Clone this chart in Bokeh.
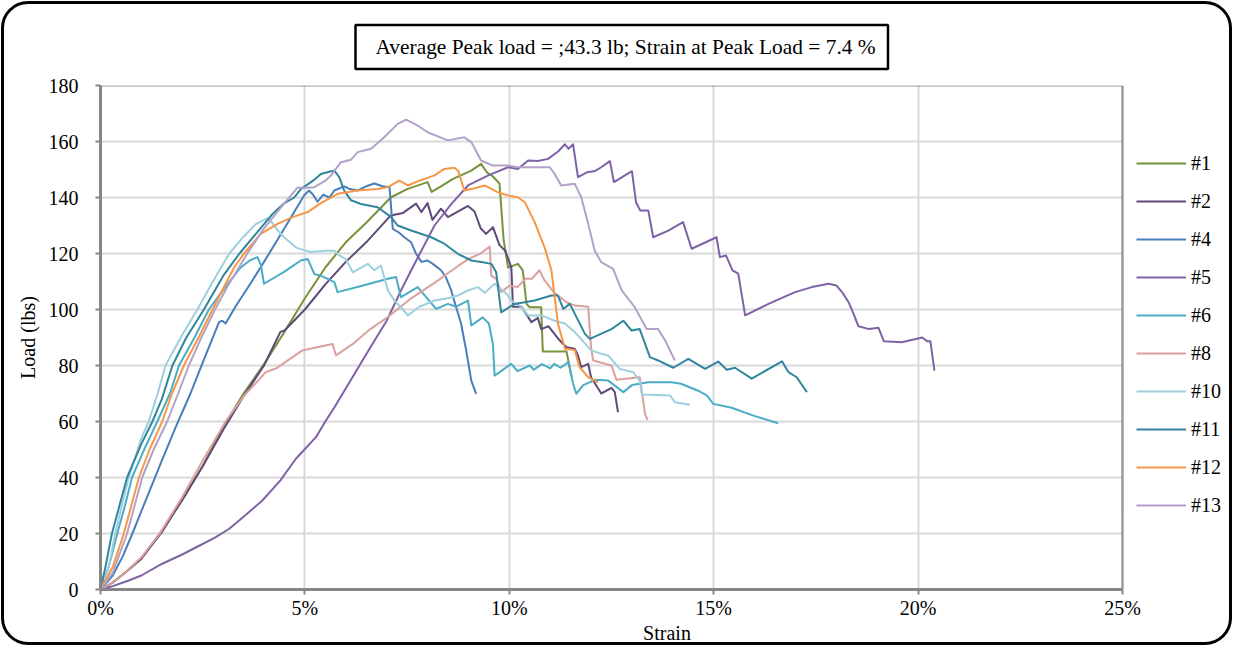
from bokeh.plotting import figure
from bokeh.models import Range1d, FixedTicker, Legend, LegendItem, BoxAnnotation
from bokeh.embed import file_html
from bokeh.resources import INLINE

# ---------------- data (strain in %, load in lbs) ----------------
names = ["#1", "#2", "#4", "#5", "#6", "#8", "#10", "#11", "#12", "#13"]
colors = ["#77933C", "#5F497A", "#4A7EBB", "#7F62A6", "#4BACC6",
          "#DAA19E", "#9DCFDD", "#31859C", "#F79646", "#B3A2C7"]

strain_1 = [0, 0.3, 0.6, 1.0, 1.5, 2.0, 2.5, 3.0, 3.5, 4.0, 4.5, 5.0, 5.5, 6.0, 6.5, 7.1, 7.5, 8.0, 8.1, 8.33,
            8.6, 9.07, 9.31, 9.45, 9.6, 9.76, 9.86, 9.97, 10.21, 10.33, 10.42, 10.5, 10.78, 10.82, 11.4, 11.52]
load_1 = [0, 2.5, 6, 11, 21, 32, 44, 58, 70, 80.5, 92, 104, 115, 124, 131, 140, 143, 145.5, 142, 144,
          146.5, 149.6, 152, 149, 147.5, 145, 125, 115, 116.3, 114, 102, 100.8, 100.8, 85, 85, 76]

strain_2 = [0, 0.3, 0.6, 1.0, 1.5, 2.0, 2.5, 3.0, 3.5, 4.0, 4.4, 4.5, 5.0, 5.5, 6.0, 6.5, 7.1, 7.4, 7.72, 7.85,
            8.0, 8.12, 8.33, 8.5, 8.99, 9.15, 9.3, 9.43, 9.6, 9.76, 9.9, 10.05, 10.09, 10.3, 10.54, 10.7, 10.78,
            10.96, 11.23, 11.4, 11.6, 11.68, 11.76, 11.93, 12.0, 12.25, 12.5, 12.58, 12.66]
load_2 = [0, 2.5, 6, 11, 20.5, 32, 44, 57, 69, 80, 92, 92.5, 100, 109, 117, 124, 133.6, 134.5, 137.8, 134.8,
          138, 132, 136, 133, 137, 135, 129, 127, 129.4, 123, 121, 115, 101, 101, 95.5, 97, 93,
          94, 89, 86.5, 86, 83.6, 79.4, 80.6, 75.8, 70, 72, 70.5, 63.3]

strain_4 = [0, 0.3, 0.55, 0.78, 1.0, 1.25, 1.5, 1.84, 2.2, 2.5, 2.9, 2.98, 3.06, 3.3, 3.7, 4.0, 4.5, 4.98, 5.1,
            5.2, 5.31, 5.45, 5.6, 5.72, 5.96, 6.1, 6.29, 6.5, 6.7, 6.9, 7.07, 7.15, 7.3, 7.43, 7.6, 7.72, 7.85,
            8.0, 8.13, 8.33, 8.45, 8.58, 8.7, 8.82, 8.95, 9.07, 9.19]
load_4 = [0, 5, 12, 20, 28, 37, 46, 58, 70, 81, 95.5, 96, 95, 101, 110, 117, 129, 140.7, 142.5,
          141, 138.5, 141, 140, 142.5, 144, 143, 142.5, 144, 145, 144, 143.7, 128.8, 127.5, 125.8, 124, 119.9, 117,
          117.5, 116.3, 114, 111.5, 106.8, 100.8, 95, 85, 74.6, 69.9]

strain_5 = [0, 0.3, 0.69, 1.0, 1.51, 2.0, 2.33, 2.8, 3.15, 3.5, 3.96, 4.4, 4.78, 5.27, 5.5, 5.72, 6.13, 6.5, 7.0,
            7.35, 7.6, 8.17, 8.6, 8.99, 9.5, 9.97, 10.21, 10.46, 10.7, 10.95, 11.2, 11.36, 11.45, 11.56, 11.68,
            11.9, 12.1, 12.25, 12.46, 12.56, 13.0, 13.1, 13.2, 13.4, 13.52, 13.89, 14.25, 14.46, 15.07, 15.15,
            15.3, 15.46, 15.6, 15.77, 16.34, 16.99, 17.4, 17.81, 18.0, 18.15, 18.3, 18.42, 18.54, 18.8, 19.03,
            19.16, 19.6, 20.1, 20.22, 20.3, 20.4]
load_5 = [0, 1.2, 3.2, 5, 9.2, 12.5, 15, 18.5, 21.7, 26, 31.8, 39, 46.7, 54.4, 60, 65, 75, 84, 96,
          106.8, 114, 130, 138, 144.3, 148, 150.8, 150.2, 153.2, 153, 153.8, 156.5, 159, 157.4, 159, 147.3,
          149, 149.5, 150.8, 153, 145.5, 149.4, 138.3, 135.4, 135.4, 125.8, 128.2, 131.2, 121.7, 125.8, 118.7,
          119.3, 114, 112.8, 97.9, 102, 106.2, 108, 109.2, 108.6, 106, 102.6, 98.5, 94, 93, 93.5,
          88.7, 88.3, 90, 88.7, 88.7, 78.2]

strain_6 = [0, 0.2, 0.41, 0.6, 0.77, 1.1, 1.39, 1.7, 1.92, 2.3, 2.65, 3.05, 3.43, 3.65, 3.84, 3.92, 4.0, 4.5,
            4.9, 5.07, 5.23, 5.4, 5.72, 5.8, 6.4, 7.03, 7.23, 7.35, 7.76, 8.21, 8.5, 8.7, 8.99, 9.07, 9.35, 9.5,
            9.6, 9.64, 10.05, 10.2, 10.5, 10.6, 10.8, 11.0, 11.1, 11.25, 11.45, 11.56, 11.64, 11.8, 12.09, 12.42,
            12.79, 13.0, 13.4, 13.97, 14.2, 14.62, 14.83, 14.99, 15.44, 15.97, 16.58]
load_6 = [0, 8, 20, 30, 40, 51, 60, 70, 80, 90, 100, 108, 115, 117.5, 118.7, 116, 109.2, 113.5,
          117.5, 118, 112.7, 112, 109.8, 106.2, 108.5, 111, 111.6, 104.4, 108, 100.2, 102, 101, 103.2, 94.3, 97.2, 95,
          87.7, 76.4, 80.6, 78, 80, 78.5, 80.5, 79, 80.6, 79.2, 81.2, 73.5, 69.9, 72.9, 74.9, 74.6,
          70.5, 73, 74, 74, 73.5, 71, 69.3, 66.3, 64.9, 62.1, 59.4]

strain_8 = [0, 0.3, 0.6, 1.0, 1.45, 2.0, 2.5, 3.06, 3.5, 4.04, 4.3, 4.6, 4.94, 5.3, 5.68, 5.76, 6.2, 6.6, 7.03,
            7.6, 8.17, 8.6, 8.99, 9.3, 9.52, 9.56, 9.68, 9.8, 10.0, 10.2, 10.4, 10.55, 10.74, 10.86, 11.1, 11.4,
            11.6, 11.93, 12.0, 12.05, 12.5, 12.62, 13.19, 13.24, 13.32, 13.38]
load_8 = [0, 2.5, 6, 11.5, 20, 33, 46, 60, 69, 77.6, 79, 82, 85.4, 86.5, 87.7, 83.6, 88, 93, 97.3,
          104, 109.5, 114, 118, 120, 122.5, 112, 111, 106.2, 108.5, 108, 111, 111, 114, 110.4, 106, 102.6,
          101.4, 101, 86.5, 81.8, 80, 74.9, 75.8, 71, 62.7, 60.6]

strain_10 = [0, 0.2, 0.36, 0.69, 1.0, 1.18, 1.4, 1.59, 2.0, 2.37, 2.75, 3.15, 3.5, 3.8, 4.0, 4.08, 4.2, 4.35, 4.49,
             4.8, 5.15, 5.5, 5.72, 5.84, 6.0, 6.17, 6.54, 6.7, 6.86, 7.03, 7.2, 7.35, 7.52, 7.8, 8.17, 8.5, 8.74,
             8.99, 9.23, 9.4, 9.64, 9.93, 10.09, 10.29, 10.46, 10.78, 11.11, 11.36, 11.6, 12.0, 12.25, 12.42,
             12.7, 13.03, 13.19, 13.24, 13.93, 14.05, 14.42]
load_10 = [0, 8, 20, 40, 54, 60, 70, 80, 91, 100, 110, 120, 126, 130.5, 132, 132.5, 131, 128, 125.8,
           122, 120.5, 121, 121, 119.3, 118, 113.3, 116.3, 114, 115.7, 106.8, 103, 100.8, 97.9, 101, 103.2, 104, 105,
           106.8, 108, 106, 109.2, 105.6, 102.6, 101, 97.9, 97.9, 96, 95, 92, 85.4, 84.2, 83.6,
           78.8, 77.6, 74.6, 69.6, 69.3, 66.9, 66]

strain_11 = [0, 0.12, 0.28, 0.65, 1.0, 1.27, 1.5, 1.76, 2.1, 2.53, 3.0, 3.4, 3.8, 4.2, 4.5, 4.74, 4.9, 5.2, 5.39,
             5.64, 5.72, 5.84, 5.96, 6.13, 6.37, 6.78, 7.11, 7.27, 7.6, 8.09, 8.41, 8.74, 9.07, 9.35, 9.56, 9.68,
             9.8, 10.13, 10.62, 11.03, 11.19, 11.32, 11.48, 11.85, 11.97, 12.5, 12.79, 12.99, 13.19, 13.44, 13.64,
             14.01, 14.38, 14.79, 15.11, 15.32, 15.52, 15.93, 16.67, 16.83, 17.03, 17.28]
load_11 = [0, 8, 20, 40, 52, 60, 68, 80, 90, 100, 112, 120, 127, 134, 138, 140, 143, 146, 148.4,
           149.4, 149.6, 147.3, 142.5, 139, 137.7, 136.5, 133, 130, 128.2, 125.8, 123.5, 119.9, 117.5, 116.9, 116.3,
           113.3, 99, 102, 103.2, 105, 105, 100.2, 102, 91.3, 89.5, 93, 96, 92.5, 93, 83, 81.8,
           79.2, 82.4, 78.8, 81.4, 78.5, 79.2, 75.3, 81.5, 77.6, 75.8, 70.5]

strain_12 = [0, 0.3, 0.57, 0.94, 1.2, 1.51, 1.75, 2.04, 2.4, 2.74, 3.0, 3.27, 3.51, 3.92, 4.33, 4.7, 5.07, 5.39,
             5.8, 6.29, 6.78, 7.03, 7.31, 7.52, 7.8, 8.17, 8.41, 8.66, 8.75, 8.9, 9.07, 9.4, 9.7, 9.97, 10.21,
             10.38, 10.62, 10.86, 11.03, 11.11, 11.19, 11.36, 11.6, 11.72, 11.93, 12.17]
load_12 = [0, 8, 20, 40, 50, 60, 70, 80, 90, 100, 107.5, 115, 120, 127, 130.6, 133, 134.8, 138,
           141.3, 142.5, 143, 143.7, 146, 144.3, 146, 147.9, 150.2, 150.6, 149.5, 142.5, 143, 144.3, 142, 140.7, 140.1,
           138.3, 131.2, 122.3, 114, 104.4, 95, 86, 85.5, 79.4, 75.8, 74]

strain_13 = [0, 0.3, 0.65, 1.02, 1.3, 1.63, 1.9, 2.16, 2.5, 2.8, 3.1, 3.59, 4.0, 4.5, 4.82, 5.07, 5.23, 5.5, 5.64,
             5.88, 6.13, 6.29, 6.62, 6.94, 7.27, 7.48, 7.76, 8.0, 8.5, 8.9, 9.07, 9.31, 9.6, 9.97, 10.21, 10.62,
             10.99, 11.11, 11.27, 11.6, 11.76, 11.93, 12.09, 12.25, 12.54, 12.75, 13.07, 13.36, 13.64, 13.81, 14.05]
load_13 = [0, 6, 20, 40, 50, 60, 70, 80, 91, 100, 108, 120, 129, 138, 143.5, 143.5, 143.7, 146, 147.9,
           152.6, 153.5, 156.2, 157.4, 161.5, 166.3, 167.8, 165.7, 163.3, 160.4, 161.5, 159.8, 153.2, 151.4, 151.4,
           150.8, 150.8, 150.8, 148.4, 144.3, 144.9, 140.1, 130.6, 121, 116.9, 114.5, 106.8, 100.8, 93, 93, 89, 81.8]

x_ticks = [0, 5, 10, 15, 20, 25]
x_tick_labels = ["0%", "5%", "10%", "15%", "20%", "25%"]
y_ticks = [0, 20, 40, 60, 80, 100, 120, 140, 160, 180]
x_min, x_max = 0, 25
y_min, y_max = 0, 180

title_text = "Average Peak load = ;43.3 lb;  Strain at Peak Load = 7.4 %"
x_label = "Strain"
y_label = "Load (lbs)"

series = [(strain_1, load_1), (strain_2, load_2), (strain_4, load_4), (strain_5, load_5),
          (strain_6, load_6), (strain_8, load_8), (strain_10, load_10), (strain_11, load_11),
          (strain_12, load_12), (strain_13, load_13)]
for s_, l_ in series:
    assert len(s_) == len(l_)

# ---------------- figure ----------------
FONT = "Liberation Serif"
W, H = 1233, 646
LEFT, TOP, BOTTOM = 100, 85, 57
AREA_W = 1022                      # pixel width of the 0..25 % plot area
frame_w = W - LEFT                 # frame also hosts the legend on the right
x_end = x_max * frame_w / AREA_W

p = figure(width=W, height=H, output_backend="svg", toolbar_location=None,
           x_range=Range1d(x_min, x_end), y_range=Range1d(y_min, y_max),
           min_border_left=LEFT, min_border_right=0, min_border_top=TOP, min_border_bottom=BOTTOM)
p.background_fill_alpha = 0
p.border_fill_alpha = 0
p.outline_line_color = None
# rounded outer frame of the chart
p.styles = {"outline": "3px solid black", "outline-offset": "-4px", "border-radius": "28px",
            "background-color": "white"}

# title in a framed box
p.title.text = title_text
p.title.align = "left"
p.title.offset = 255
p.title.text_font = FONT
p.title.text_font_size = "21.4px"
p.title.text_font_style = "normal"
p.title.text_color = "black"
p.title.background_fill_color = "white"
p.title.border_line_color = "black"
p.title.border_line_width = 2.5
p.title.padding = (20, 7, 10, 10)
p.title.standoff = 33

for ax in (p.xaxis[0], p.yaxis[0]):
    ax.axis_line_color = "#868686"
    ax.axis_line_width = 3
    ax.major_tick_line_color = "#868686"
    ax.major_tick_line_width = 2
    ax.major_tick_out = 5
    ax.major_tick_in = 0
    ax.minor_tick_line_color = None
    ax.major_label_text_font = FONT
    ax.major_label_text_font_size = "20px"
    ax.major_label_text_color = "black"
    ax.axis_label_text_font = FONT
    ax.axis_label_text_font_size = "20px"
    ax.axis_label_text_font_style = "normal"
    ax.axis_label_text_color = "black"

p.xaxis.bounds = (x_min, x_max)
p.xaxis.ticker = FixedTicker(ticks=x_ticks)
p.xaxis.major_label_overrides = {t: lab for t, lab in zip(x_ticks, x_tick_labels)}
p.xaxis.major_label_standoff = 2
p.xaxis.axis_label = x_label
p.xaxis.axis_label_standoff = 0
p.yaxis.ticker = FixedTicker(ticks=y_ticks)
p.yaxis.major_label_standoff = 17
p.yaxis.axis_label = y_label
p.yaxis.axis_label_standoff = 7

p.xgrid.ticker = FixedTicker(ticks=x_ticks)
p.ygrid.ticker = FixedTicker(ticks=y_ticks)
for g in (p.xgrid[0], p.ygrid[0]):
    g.grid_line_color = "#d9d9d9"
    g.grid_line_width = 2
ygrid = p.ygrid[0]
if "cross_bounds" in ygrid.properties():
    ygrid.cross_bounds = (x_min, x_max)
else:
    ygrid.grid_line_color = None
    p.segment(x0=[x_min] * len(y_ticks), y0=y_ticks, x1=[x_max] * len(y_ticks), y1=y_ticks,
              line_color="#d9d9d9", line_width=2, level="underlay")

# plot-area border (top / right black lines; left & bottom covered by the grey axes)
p.add_layout(BoxAnnotation(left=x_min, right=x_max, bottom=y_min, top=y_max,
                           fill_color=None, line_color="black", line_width=2.5, level="underlay"))

items = []
for (s_, l_), name, col in zip(series, names, colors):
    r = p.line(s_, l_, line_color=col, line_width=2, line_join="round")
    items.append(LegendItem(label=name, renderers=[r]))

legend = Legend(items=items, location=(1036, 72), orientation="vertical",
                glyph_width=50, glyph_height=24, label_height=24, spacing=14,
                padding=0, margin=0, label_standoff=5,
                border_line_color=None, background_fill_alpha=0,
                label_text_font=FONT, label_text_font_size="20px", label_text_color="black")
p.add_layout(legend, "center")

open("out.html", "w").write(file_html(p, INLINE))
